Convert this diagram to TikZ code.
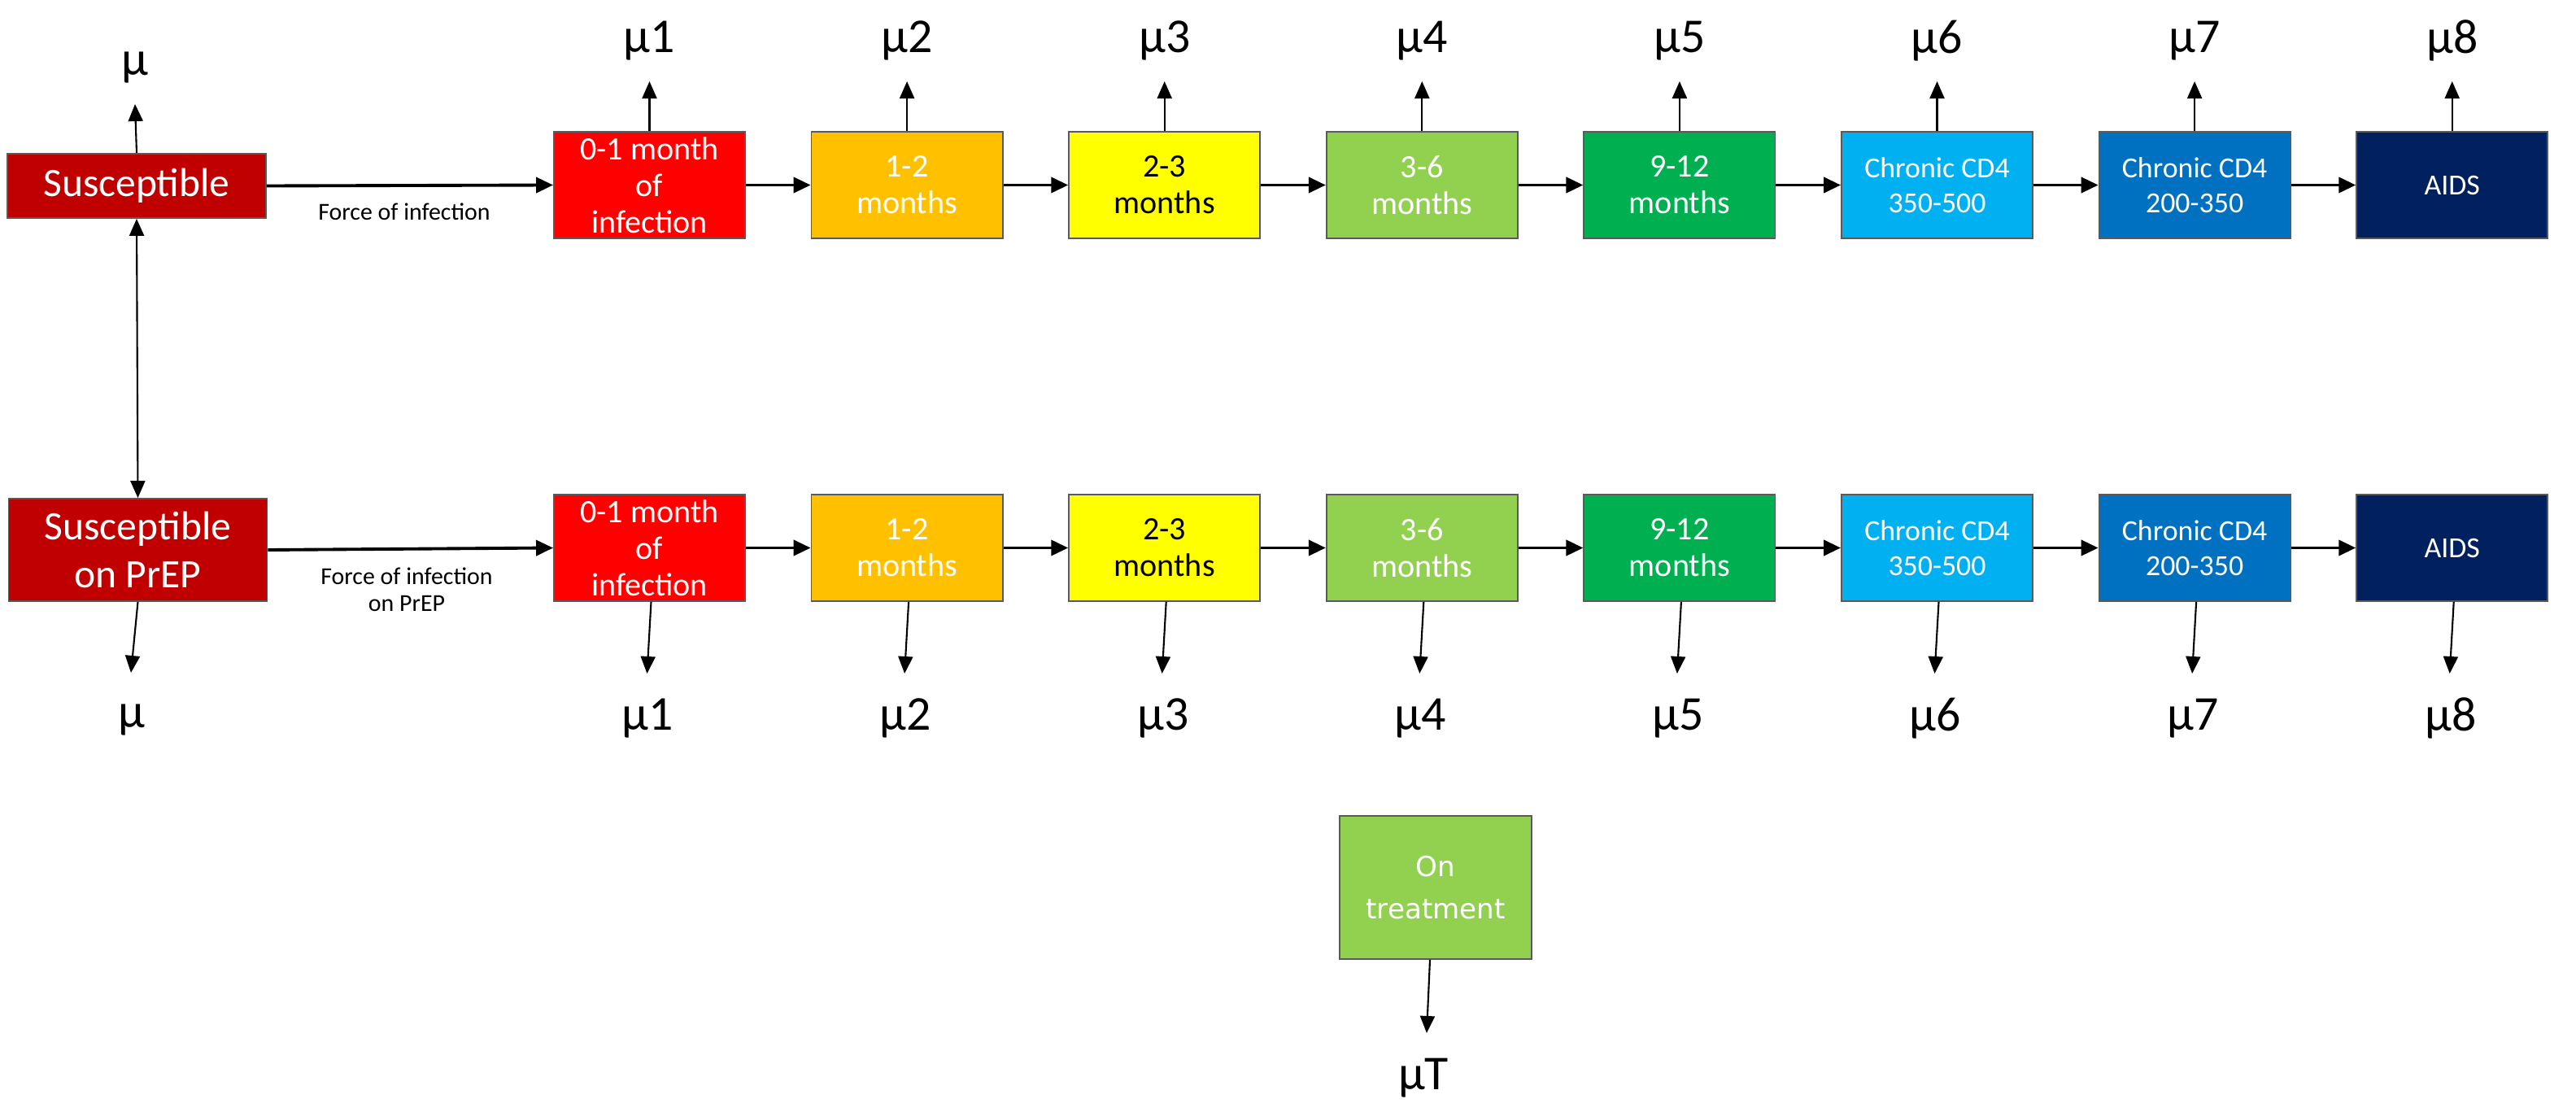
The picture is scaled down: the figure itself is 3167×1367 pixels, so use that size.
\documentclass[tikz,border=0pt]{standalone}
\usepackage{fontspec}
\setmainfont{Carlito}
\newfontfamily\verdanalike{DejaVu Sans}
\usetikzlibrary{arrows.meta}
\definecolor{cSus}{HTML}{C00000}
\definecolor{cA}{HTML}{FF0000}
\definecolor{cB}{HTML}{FFC000}
\definecolor{cC}{HTML}{FFFF00}
\definecolor{cD}{HTML}{92D050}
\definecolor{cE}{HTML}{00B050}
\definecolor{cF}{HTML}{00B0F0}
\definecolor{cG}{HTML}{0070C0}
\definecolor{cH}{HTML}{002060}
\definecolor{cBorder}{HTML}{5A5A5A}
\tikzset{
  stagebox/.style={draw=cBorder, line width=0.5pt, minimum width=2.35cm, minimum height=1.31cm,
    inner sep=0pt, align=center, text=white},
  bigtxt/.style={font=\fontsize{11.4}{12.8}\selectfont},
  smalltxt/.style={font=\fontsize{10.2}{12.2}\selectfont},
  susbox/.style={draw=cBorder, line width=0.5pt, fill=cSus, text=white, inner sep=0pt,
    align=center, minimum width=3.18cm, font=\fontsize{14.1}{17}\selectfont},
  mulabel/.style={inner sep=0pt, font=\fontsize{17}{20}\selectfont},
  flow/.style={-{Triangle[length=0.21cm,width=0.19cm]}, line width=1.1pt},
  exitarrow/.style={-{Triangle[length=0.21cm,width=0.18cm]}, line width=0.6pt},
  twoway/.style={{Triangle[length=0.21cm,width=0.18cm]}-{Triangle[length=0.21cm,width=0.18cm]}, line width=0.6pt},
  foilabel/.style={inner sep=0pt, align=center, font=\fontsize{8.5}{9.5}\selectfont}
}
\begin{document}
\begin{tikzpicture}[x=0.01cm,y=-0.01cm]
\useasboundingbox[fill=white] (0,0) rectangle (3167,1367);

% susceptible compartments
\node[susbox, minimum height=0.79cm] (sus) at (168,228.5) {Susceptible};
\node[susbox, minimum height=1.26cm] (prep) at (169.5,676) {Susceptible\\on PrEP};

\node[mulabel] (musus) at (166,83) {μ};
\coordinate (esus) at (166,128);
\draw[exitarrow] (sus.north) -- (esus);
\node[mulabel] (muprep) at (162,885) {μ};
\coordinate (eprep) at (161,827);
\draw[exitarrow] (prep.south) -- (eprep);
\draw[twoway] (sus.south) -- (prep.north);

% stage compartments
\foreach \i/\fc/\tc/\fs/\txt in {
  1/cA/white/bigtxt/{0-1 month\\of\\infection},
  2/cB/white/bigtxt/{1-2\\months},
  3/cC/black/bigtxt/{2-3\\months},
  4/cD/white/bigtxt/{3-6\\months},
  5/cE/white/bigtxt/{9-12\\months},
  6/cF/white/smalltxt/{Chronic CD4\\350-500},
  7/cG/white/smalltxt/{Chronic CD4\\200-350},
  8/cH/white/smalltxt/{AIDS}}
{
  \pgfmathsetmacro{\cx}{798.5+316.6*(\i-1)}
  \node[stagebox, fill=\fc, text=\tc, \fs] (t\i) at (\cx,227.5) {\txt};
  \node[stagebox, fill=\fc, text=\tc, \fs] (b\i) at (\cx,673.5) {\txt};
  \node[mulabel] (mt\i) at (\cx,50) {μ\i};
  \node[mulabel] (mb\i) at (\cx-2,883) {μ\i};
  \coordinate (et\i) at (\cx,100);
  \coordinate (eb\i) at (\cx-3,828);
  \draw[exitarrow] (t\i.north) -- (et\i);
  \draw[exitarrow] ([xshift=0.02cm]b\i.south) -- (eb\i);
}

% progression arrows
\draw[flow] (sus.east) -- (t1.west);
\draw[flow] (prep.east) -- (b1.west);
\foreach \i [evaluate=\i as \j using int(\i+1)] in {1,...,7}{
  \draw[flow] (t\i.east) -- (t\j.west);
  \draw[flow] (b\i.east) -- (b\j.west);
}

\node[foilabel] (foi) at (497,260) {Force of infection};
\node[foilabel] (foip) at (500,725) {Force of infection\\on PrEP};

% on treatment
\node[stagebox, fill=cD, minimum width=2.36cm, minimum height=1.76cm,
      font=\verdanalike\fontsize{9.7}{14.8}\selectfont] (treat) at (1765,1091) {On\\treatment};
\node[mulabel] (mut) at (1750,1325) {μT};
\coordinate (etreat) at (1754,1270);
\draw[exitarrow] ([xshift=-0.07cm]treat.south) -- (etreat);
\end{tikzpicture}
\end{document}
